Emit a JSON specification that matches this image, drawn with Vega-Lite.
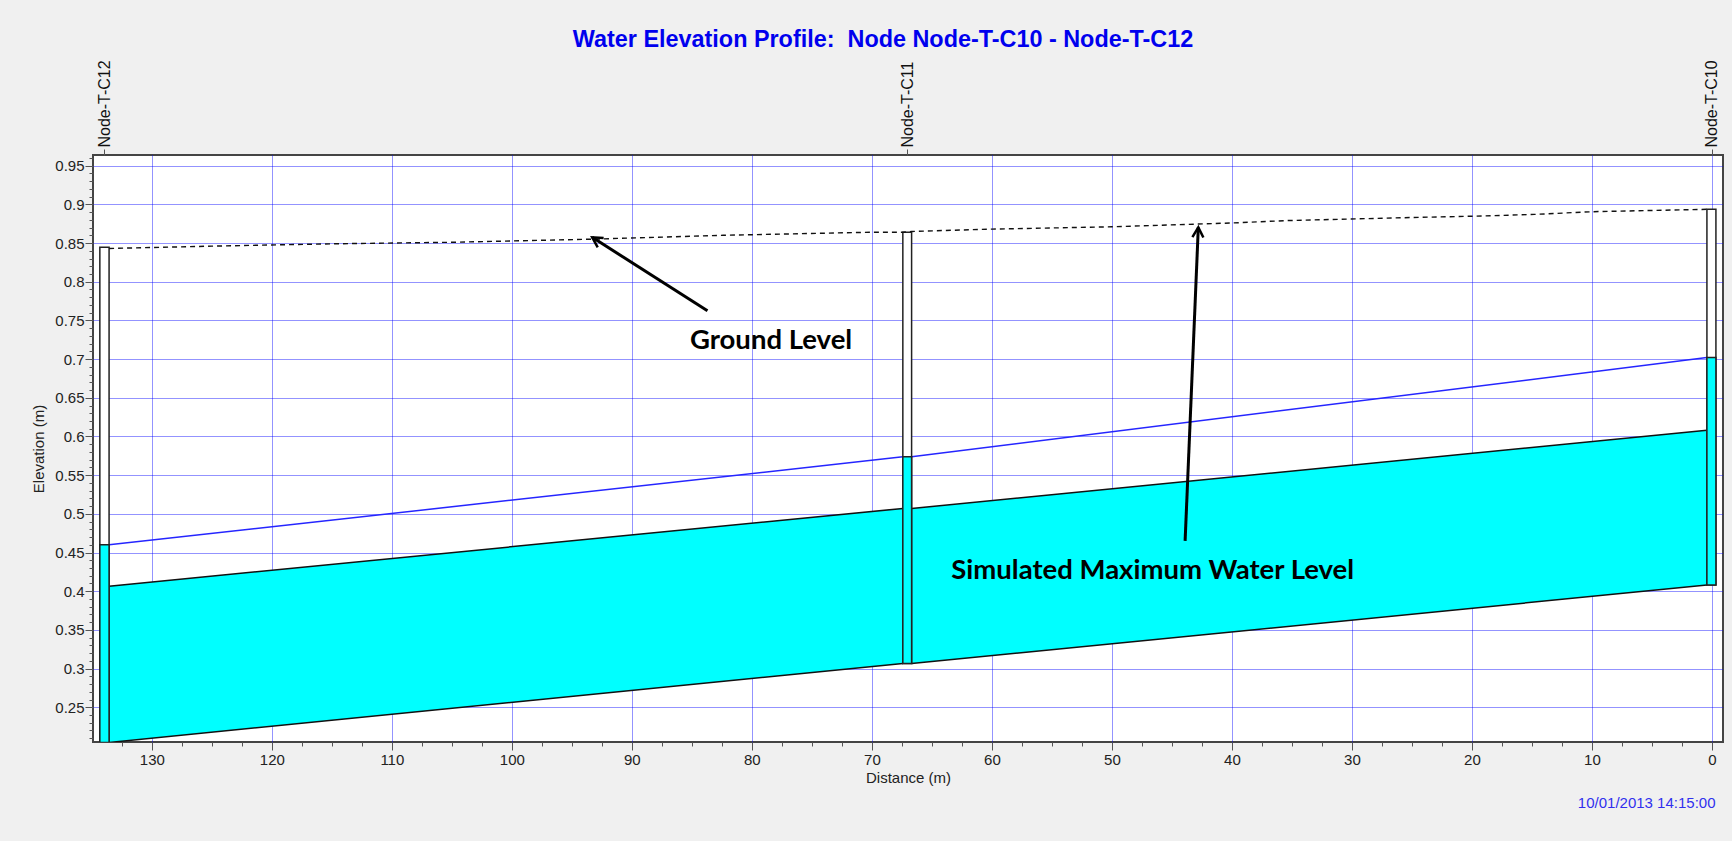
{
  "$schema": "https://vega.github.io/schema/vega-lite/v6.json",
  "width": 1630,
  "height": 587,
  "autosize": {"type": "none"},
  "padding": {"left": 93, "top": 155, "right": 9, "bottom": 99},
  "background": "#f0f0f0",
  "title": {
    "text": "Water Elevation Profile:\u00a0 Node Node-T-C10 - Node-T-C12",
    "font": "Liberation Sans",
    "fontSize": 23.4,
    "fontWeight": "bold",
    "color": "#0000ee",
    "anchor": "middle",
    "dx": -25,
    "offset": 7
  },
  "config": {
    "view": {"stroke": "#444444", "strokeWidth": 2, "fill": "white"}
  },
  "datasets": {
    "profile": [
      {"seg": 1, "d": 133.56, "top": 0.4065, "bot": 0.2045, "wl": 0.46},
      {"seg": 1, "d": 67.42, "top": 0.507, "bot": 0.3065, "wl": 0.5737},
      {"seg": 2, "d": 66.69, "top": 0.507, "bot": 0.3065, "wl": 0.5737},
      {"seg": 2, "d": 0.42, "top": 0.608, "bot": 0.408, "wl": 0.702}
    ],
    "manholes": [
      {"node": "Node-T-C12", "x1": 134.33, "x2": 133.56, "inv": 0.2045, "wl": 0.46, "gl": 0.8445},
      {"node": "Node-T-C11", "x1": 67.42, "x2": 66.69, "inv": 0.3065, "wl": 0.5737, "gl": 0.864},
      {"node": "Node-T-C10", "x1": 0.42, "x2": -0.33, "inv": 0.408, "wl": 0.702, "gl": 0.8936}
    ],
    "ground": [
      {"d": 133.56, "gl": 0.843},
      {"d": 125, "gl": 0.846},
      {"d": 115, "gl": 0.849},
      {"d": 105, "gl": 0.851},
      {"d": 93.3, "gl": 0.855},
      {"d": 82.4, "gl": 0.86},
      {"d": 70, "gl": 0.864},
      {"d": 67.42, "gl": 0.864},
      {"d": 66.69, "gl": 0.865},
      {"d": 60, "gl": 0.868},
      {"d": 50, "gl": 0.871},
      {"d": 39.9, "gl": 0.876},
      {"d": 35.5, "gl": 0.879},
      {"d": 25, "gl": 0.883},
      {"d": 19.1, "gl": 0.885},
      {"d": 14.8, "gl": 0.887},
      {"d": 10, "gl": 0.8905},
      {"d": 0.42, "gl": 0.8936}
    ],
    "arrows": [
      {"name": "ground", "d": 83.7, "e": 0.7625, "d2": 93.3, "e2": 0.8574},
      {"name": "water", "d": 43.9, "e": 0.465, "d2": 42.8, "e2": 0.8703}
    ],
    "notes": [
      {"t": "Ground Level", "d": 78.4, "e": 0.7233},
      {"t": "Simulated Maximum Water Level", "d": 46.6, "e": 0.4265}
    ]
  },
  "layer": [
    {
      "data": {"name": "profile"},
      "mark": {"type": "area", "color": "#00ffff", "clip": true, "opacity": 1},
      "encoding": {
        "x": {
          "field": "d",
          "type": "quantitative",
          "scale": {"domain": [134.9, -0.92], "nice": false, "zero": false},
          "axis": {
            "values": [132.5,130,127.5,125,122.5,120,117.5,115,112.5,110,107.5,105,102.5,100,97.5,95,92.5,90,87.5,85,82.5,80,77.5,75,72.5,70,67.5,65,62.5,60,57.5,55,52.5,50,47.5,45,42.5,40,37.5,35,32.5,30,27.5,25,22.5,20,17.5,15,12.5,10,7.5,5,2.5,0],
            "labelExpr": "datum.value % 10 == 0 ? toString(datum.value) : ''",
            "labelFont": "Liberation Sans",
            "labelFontSize": 15,
            "labelColor": "#222222",
            "labelPadding": 2,
            "labelOverlap": false,
            "labelFlush": false,
            "labelBound": false,
            "domain": false,
            "tickColor": "#555555",
            "tickSize": {"condition": {"test": "datum.value % 10 == 0", "value": 8}, "value": 4},
            "grid": true,
            "gridColor": "#0000ff",
            "gridDash": [1, 1],
            "gridWidth": 1,
            "gridOpacity": {"condition": {"test": "datum.value % 10 == 0", "value": 0.85}, "value": 0},
            "title": "Distance (m)",
            "titleFont": "Liberation Sans",
            "titleFontSize": 15,
            "titleFontWeight": "normal",
            "titleColor": "#222222",
            "titlePadding": 3
          }
        },
        "y": {
          "field": "top",
          "type": "quantitative",
          "scale": {"domain": [0.2051, 0.9638], "nice": false, "zero": false},
          "axis": {
            "values": [0.21,0.22,0.23,0.24,0.25,0.26,0.27,0.28,0.29,0.3,0.31,0.32,0.33,0.34,0.35,0.36,0.37,0.38,0.39,0.4,0.41,0.42,0.43,0.44,0.45,0.46,0.47,0.48,0.49,0.5,0.51,0.52,0.53,0.54,0.55,0.56,0.57,0.58,0.59,0.6,0.61,0.62,0.63,0.64,0.65,0.66,0.67,0.68,0.69,0.7,0.71,0.72,0.73,0.74,0.75,0.76,0.77,0.78,0.79,0.8,0.81,0.82,0.83,0.84,0.85,0.86,0.87,0.88,0.89,0.9,0.91,0.92,0.93,0.94,0.95,0.96],
            "labelExpr": "round(datum.value * 100) % 5 == 0 ? format(datum.value, '.2~f') : ''",
            "labelFont": "Liberation Sans",
            "labelFontSize": 15,
            "labelColor": "#222222",
            "labelPadding": 1,
            "labelOverlap": false,
            "labelFlush": false,
            "labelBound": false,
            "domain": false,
            "tickColor": "#555555",
            "tickSize": {"condition": {"test": "round(datum.value * 100) % 5 == 0", "value": 8}, "value": 4},
            "grid": true,
            "gridColor": "#0000ff",
            "gridDash": [1, 1],
            "gridWidth": 1,
            "gridOpacity": {"condition": {"test": "round(datum.value * 100) % 5 == 0", "value": 0.85}, "value": 0},
            "title": "Elevation (m)",
            "titleFont": "Liberation Sans",
            "titleFontSize": 15,
            "titleFontWeight": "normal",
            "titleColor": "#222222",
            "titlePadding": 8
          }
        },
        "y2": {"field": "bot"},
        "detail": {"field": "seg"}
      }
    },
    {
      "data": {"name": "profile"},
      "mark": {"type": "line", "color": "#111111", "strokeWidth": 1.5, "clip": true},
      "encoding": {
        "x": {"field": "d", "type": "quantitative", "axis": null},
        "y": {"field": "top", "type": "quantitative", "axis": null},
        "detail": {"field": "seg"}
      }
    },
    {
      "data": {"name": "profile"},
      "mark": {"type": "line", "color": "#111111", "strokeWidth": 1.5, "clip": true},
      "encoding": {
        "x": {"field": "d", "type": "quantitative", "axis": null},
        "y": {"field": "bot", "type": "quantitative", "axis": null},
        "detail": {"field": "seg"}
      }
    },
    {
      "data": {"name": "profile"},
      "mark": {"type": "line", "color": "#2525ff", "strokeWidth": 1.5, "clip": true},
      "encoding": {
        "x": {"field": "d", "type": "quantitative", "axis": null},
        "y": {"field": "wl", "type": "quantitative", "axis": null},
        "detail": {"field": "seg"}
      }
    },
    {
      "data": {"name": "manholes"},
      "mark": {"type": "rect", "fill": "white", "stroke": "#222222", "strokeWidth": 1.5, "clip": true},
      "encoding": {
        "x": {
          "field": "x1",
          "type": "quantitative",
          "axis": {
            "orient": "top",
            "values": [133.95, 67.06, 0],
            "labelExpr": "datum.value > 100 ? 'Node-T-C12' : (datum.value > 30 ? 'Node-T-C11' : 'Node-T-C10')",
            "labelAngle": -90,
            "labelAlign": "left",
            "labelBaseline": "middle",
            "labelFont": "Liberation Sans",
            "labelFontSize": 16,
            "labelColor": "#111111",
            "labelPadding": 2,
            "labelOverlap": false,
            "labelFlush": false,
            "labelBound": false,
            "domain": false,
            "grid": false,
            "tickColor": "#555555",
            "tickSize": 6,
            "title": null
          }
        },
        "x2": {"field": "x2"},
        "y": {"field": "inv", "type": "quantitative", "axis": null},
        "y2": {"field": "gl"}
      }
    },
    {
      "data": {"name": "manholes"},
      "mark": {"type": "rect", "fill": "#00ffff", "stroke": "#222222", "strokeWidth": 1.5, "clip": true},
      "encoding": {
        "x": {"field": "x1", "type": "quantitative", "axis": null},
        "x2": {"field": "x2"},
        "y": {"field": "inv", "type": "quantitative", "axis": null},
        "y2": {"field": "wl"}
      }
    },
    {
      "data": {"name": "ground"},
      "mark": {"type": "line", "color": "#111111", "strokeWidth": 1.4, "strokeDash": [5, 4], "clip": true},
      "encoding": {
        "x": {
          "field": "d",
          "type": "quantitative",
          "axis": {
            "orient": "bottom",
            "offset": 50,
            "labels": false,
            "ticks": false,
            "domain": false,
            "grid": false,
            "title": "10/01/2013 14:15:00",
            "titleFont": "Liberation Sans",
            "titleFontSize": 15,
            "titleFontWeight": "normal",
            "titleColor": "#3030ee",
            "titleAnchor": "end",
            "titleAlign": "right",
            "titleX": 1622,
            "titlePadding": 3
          }
        },
        "y": {"field": "gl", "type": "quantitative", "axis": null}
      }
    },
    {
      "data": {"name": "arrows"},
      "mark": {"type": "rule", "color": "black", "strokeWidth": 3},
      "encoding": {
        "x": {"field": "d", "type": "quantitative", "axis": null},
        "y": {"field": "e", "type": "quantitative", "axis": null},
        "x2": {"field": "d2"},
        "y2": {"field": "e2"}
      }
    },
    {
      "data": {"name": "arrows"},
      "transform": [{"filter": "datum.name == 'ground'"}],
      "mark": {"type": "point", "shape": "M-0.55,1L0,0L0.55,1", "filled": false, "stroke": "black", "strokeWidth": 2.5, "size": 400, "angle": 302.6, "opacity": 1},
      "encoding": {
        "x": {"field": "d2", "type": "quantitative", "axis": null},
        "y": {"field": "e2", "type": "quantitative", "axis": null}
      }
    },
    {
      "data": {"name": "arrows"},
      "transform": [{"filter": "datum.name == 'water'"}],
      "mark": {"type": "point", "shape": "M-0.55,1L0,0L0.55,1", "filled": false, "stroke": "black", "strokeWidth": 2.5, "size": 400, "angle": 2.4, "opacity": 1},
      "encoding": {
        "x": {"field": "d2", "type": "quantitative", "axis": null},
        "y": {"field": "e2", "type": "quantitative", "axis": null}
      }
    },
    {
      "data": {"name": "notes"},
      "mark": {"type": "text", "font": "Lato", "fontWeight": "bold", "fontSize": 27.5, "color": "black", "align": "center", "baseline": "middle"},
      "encoding": {
        "x": {"field": "d", "type": "quantitative", "axis": null},
        "y": {"field": "e", "type": "quantitative", "axis": null},
        "text": {"field": "t"}
      }
    }
  ],
  "resolve": {"axis": {"x": "independent", "y": "independent"}}
}
